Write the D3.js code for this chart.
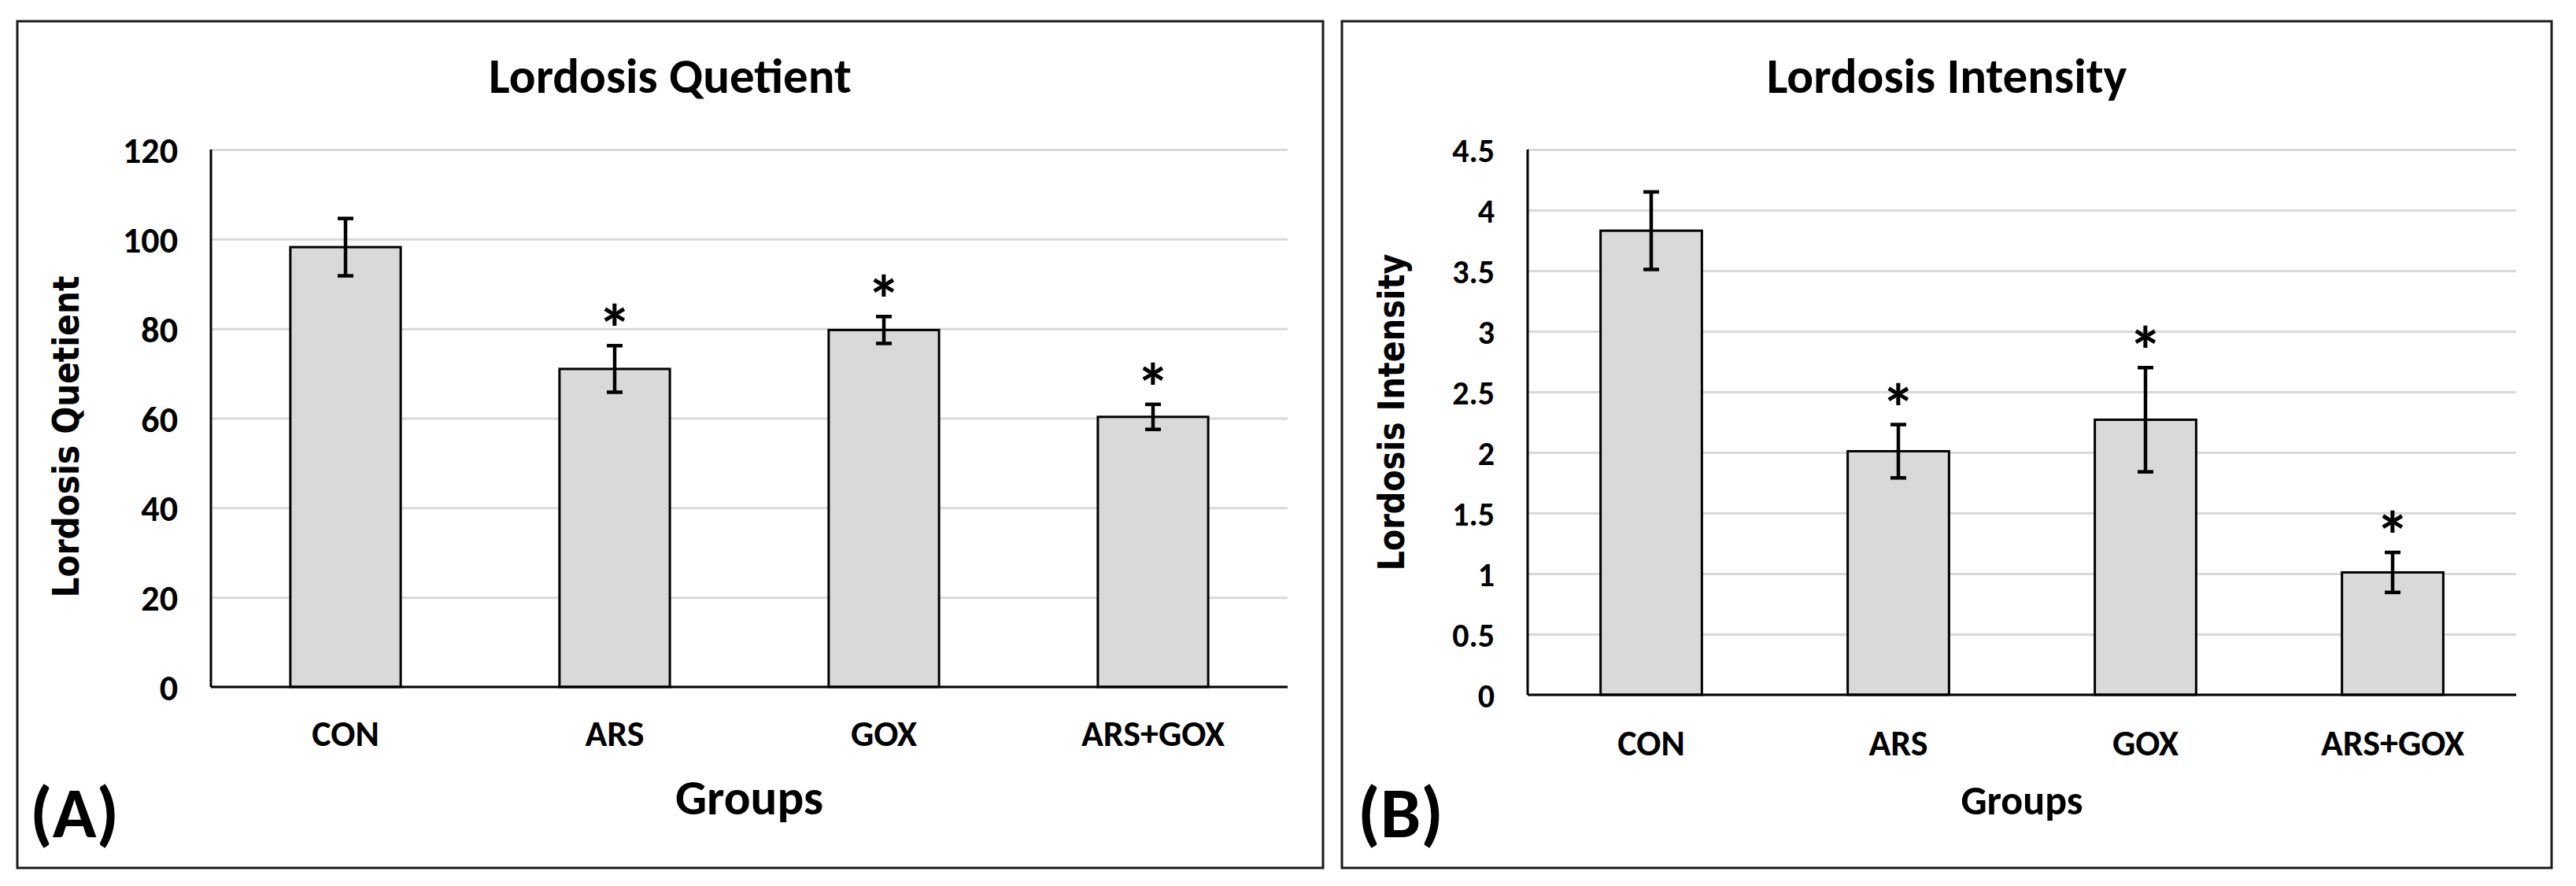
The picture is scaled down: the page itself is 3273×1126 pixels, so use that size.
<!DOCTYPE html>
<html>
<head>
<meta charset="utf-8">
<script src="https://cdn.jsdelivr.net/npm/d3@7"></script>
<style>
  body { margin: 0; background: #fff; }
  text { font-family: Carlito, "Liberation Sans Narrow", "Open Sans", sans-serif; fill: #000; }
</style>
</head>
<body>
<div id="chart"></div>
<script>
// data
var groups = ["CON", "ARS", "GOX", "ARS+GOX"];

var quotientMeans  = [98.2, 71.0, 79.7, 60.3];
var quotientErrors = [6.4, 5.2, 3.0, 2.8];
var quotientStars  = [false, true, true, true];
var quotientTicks  = [0, 20, 40, 60, 80, 100, 120];

var intensityMeans  = [3.83, 2.01, 2.27, 1.01];
var intensityErrors = [0.32, 0.22, 0.43, 0.165];
var intensityStars  = [false, true, true, true];
var intensityTicks  = [0, 0.5, 1, 1.5, 2, 2.5, 3, 3.5, 4, 4.5];

var width = 3273;
var height = 1126;

var svg = d3.select("#chart")
    .append("svg")
    .attr("width", width)
    .attr("height", height);

function drawPanel(p) {
    var g = svg.append("g");

    // outer box
    g.append("rect")
        .attr("x", p.box[0])
        .attr("y", p.box[1])
        .attr("width", p.box[2])
        .attr("height", p.box[3])
        .attr("fill", "#fff")
        .attr("stroke", "#1a1a1a")
        .attr("stroke-width", 3);

    var x = d3.scaleBand()
        .domain(groups)
        .range([p.left, p.right])
        .paddingInner(0.59)
        .paddingOuter(0.295);

    var y = d3.scaleLinear()
        .domain([0, p.ticks[p.ticks.length - 1]])
        .range([p.bottom, p.top]);

    // gridlines
    g.append("g")
        .attr("transform", "translate(" + p.left + ",0)")
        .call(d3.axisLeft(y).tickValues(p.ticks).tickSize(-(p.right - p.left)).tickFormat(""))
        .call(function(a) {
            a.select(".domain").remove();
            a.selectAll("line").attr("stroke", "#d9d9d9").attr("stroke-width", 3);
        });

    // y tick labels (plain numbers, like 4 and 4.5)
    g.append("g")
        .attr("transform", "translate(" + (p.left - 42) + ",0)")
        .call(d3.axisLeft(y).tickValues(p.ticks).tickSize(0).tickPadding(0)
            .tickFormat(function(d) { return String(d); }))
        .call(function(a) {
            a.select(".domain").remove();
            a.selectAll("text")
                .attr("font-size", p.tickSize)
                .attr("font-weight", "bold")
                .attr("font-family", null)
                .attr("dy", "0.36em");
        });

    // bars
    g.selectAll(".bar")
        .data(p.means)
        .enter()
        .append("rect")
        .attr("x", function(d, i) { return x(groups[i]); })
        .attr("y", function(d) { return y(d); })
        .attr("width", x.bandwidth())
        .attr("height", function(d) { return y(0) - y(d); })
        .attr("fill", "#d9d9d9")
        .attr("stroke", "#000")
        .attr("stroke-width", 3);

    // error bars + significance stars
    var cap = 10;
    p.means.forEach(function(m, i) {
        var cx = x(groups[i]) + x.bandwidth() / 2;
        var hi = y(m + p.errors[i]);
        var lo = y(m - p.errors[i]);
        g.append("line").attr("x1", cx).attr("x2", cx).attr("y1", hi).attr("y2", lo)
            .attr("stroke", "#000").attr("stroke-width", 4.5);
        g.append("line").attr("x1", cx - cap).attr("x2", cx + cap).attr("y1", hi).attr("y2", hi)
            .attr("stroke", "#000").attr("stroke-width", 4.5);
        g.append("line").attr("x1", cx - cap).attr("x2", cx + cap).attr("y1", lo).attr("y2", lo)
            .attr("stroke", "#000").attr("stroke-width", 4.5);
        if (p.stars[i]) {
            g.append("text")
                .attr("x", cx)
                .attr("y", hi - 40 + 0.57 * 86)
                .attr("text-anchor", "middle")
                .attr("font-size", 86)
                .attr("font-weight", "bold")
                .text("*");
        }
    });

    // axis lines
    g.append("line").attr("x1", p.left).attr("x2", p.left).attr("y1", p.top).attr("y2", p.bottom)
        .attr("stroke", "#000").attr("stroke-width", 3);
    g.append("line").attr("x1", p.left).attr("x2", p.right).attr("y1", p.bottom).attr("y2", p.bottom)
        .attr("stroke", "#000").attr("stroke-width", 3);

    // category labels
    g.selectAll(".cat")
        .data(groups)
        .enter()
        .append("text")
        .attr("x", function(d) { return x(d) + x.bandwidth() / 2; })
        .attr("y", p.catY)
        .attr("text-anchor", "middle")
        .attr("font-size", 46)
        .attr("font-weight", 600)
        .text(function(d) { return d; });

    // title
    g.append("text")
        .attr("x", p.box[0] + p.box[2] / 2)
        .attr("y", 118)
        .attr("text-anchor", "middle")
        .attr("font-size", 63)
        .attr("font-weight", "bold")
        .text(p.title);

    // x title
    g.append("text")
        .attr("x", (p.left + p.right) / 2)
        .attr("y", 1035)
        .attr("text-anchor", "middle")
        .attr("font-size", p.groupsSize)
        .attr("font-weight", "bold")
        .text("Groups");

    // y title
    g.append("text")
        .attr("transform", "translate(" + p.yTitle[0] + "," + p.yTitle[1] + ") rotate(-90)")
        .attr("text-anchor", "middle")
        .attr("font-size", 46)
        .attr("font-weight", "bold")
        .attr("textLength", p.yTitle[2])
        .attr("lengthAdjust", "spacingAndGlyphs")
        .style("font-family", "'DejaVu Sans', Verdana, sans-serif")
        .text(p.yLabel);

    // panel letter
    g.append("text")
        .attr("x", p.letterX)
        .attr("y", 1064)
        .attr("font-size", 92)
        .attr("font-weight", "bold")
        .text(p.letter);
}

drawPanel({
    box: [22, 27, 1659, 1076],
    left: 268, right: 1636, top: 190, bottom: 873,
    means: quotientMeans, errors: quotientErrors, stars: quotientStars, ticks: quotientTicks,
    tickSize: 46, catY: 948, groupsSize: 63,
    title: "Lordosis Quetient", yLabel: "Lordosis Quetient",
    yTitle: [100, 555, 409],
    letter: "(A)", letterX: 38
});

drawPanel({
    box: [1705, 27, 1537, 1076],
    left: 1941, right: 3197, top: 190, bottom: 883,
    means: intensityMeans, errors: intensityErrors, stars: intensityStars, ticks: intensityTicks,
    tickSize: 42, catY: 960, groupsSize: 52,
    title: "Lordosis Intensity", yLabel: "Lordosis Intensity",
    yTitle: [1784, 524, 403],
    letter: "(B)", letterX: 1725
});
</script>
</body>
</html>
